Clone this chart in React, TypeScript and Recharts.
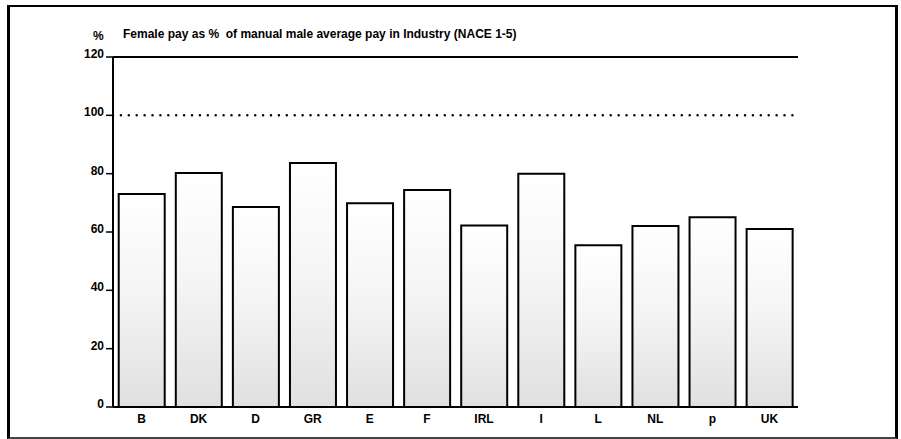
import { BarChart, Bar, XAxis, YAxis, ReferenceLine } from "recharts";

const countries = ["B", "DK", "D", "GR", "E", "F", "IRL", "I", "L", "NL", "p", "UK"];
const femalePay = [73.0, 80.2, 68.6, 83.7, 69.9, 74.4, 62.2, 80.0, 55.5, 62.1, 65.1, 61.0];
const yTicks = [0, 20, 40, 60, 80, 100, 120];

const data = countries.map((c, i) => ({ country: c, pay: femalePay[i] }));

const FONT = "'Liberation Sans', Arial, Helvetica, sans-serif";

function YTick(props: any) {
  const { x, y, payload } = props;
  return (
    <text x={x} y={y - 3} textAnchor="end" dominantBaseline="central" fontSize={12} fontWeight="bold" fontFamily={FONT} fill="#000">
      {payload.value}
    </text>
  );
}

export default function App() {
  return (
    <div style={{ position: "absolute", left: 0, top: 0, width: 901, height: 439, background: "#fff" }}>
      <div
        style={{
          position: "absolute",
          left: 7,
          top: 5,
          width: 885,
          height: 430,
          borderTop: "2px solid #000",
          borderLeft: "3px solid #000",
          borderRight: "3px solid #000",
          borderBottom: "2px solid #444",
        }}
      />
      <div style={{ position: "absolute", left: 93, top: 29, fontFamily: FONT, fontSize: 12, fontWeight: "bold" }}>%</div>
      <div style={{ position: "absolute", left: 123, top: 27, fontFamily: FONT, fontSize: 12, fontWeight: "bold", whiteSpace: "pre" }}>
        Female pay as %  of manual male average pay in Industry (NACE 1-5)
      </div>
      <div style={{ position: "absolute", left: 0, top: 0 }}>
        <BarChart width={901} height={439} data={data} margin={{ top: 57, right: 103, left: 63, bottom: 8 }} barCategoryGap="10%">
          <defs>
            <linearGradient id="speckle" x1="0" y1="0" x2="0" y2="1">
              <stop offset="0%" stopColor="#ffffff" />
              <stop offset="45%" stopColor="#f5f5f5" />
              <stop offset="100%" stopColor="#e0e0e0" />
            </linearGradient>
          </defs>
          <XAxis
            dataKey="country"
            height={24}
            tickLine={false}
            tickSize={0}
            tickMargin={7}
            axisLine={{ stroke: "#000", strokeWidth: 2 }}
            tick={{ fontSize: 12, fontWeight: "bold", fill: "#000", fontFamily: FONT }}
          />
          <YAxis
            width={50}
            domain={[0, 120]}
            ticks={yTicks}
            tickSize={7}
            tickMargin={2}
            tick={<YTick />}
            tickLine={{ stroke: "#000", strokeWidth: 1.5 }}
            axisLine={{ stroke: "#000", strokeWidth: 2 }}
          />
          <YAxis
            yAxisId="r"
            orientation="right"
            width={0}
            domain={[0, 120]}
            tick={false}
            tickLine={false}
            axisLine={{ stroke: "#000", strokeWidth: 2 }}
          />
          <ReferenceLine y={120} stroke="#000" strokeWidth={2} />
          <ReferenceLine y={100} stroke="#000" strokeWidth={2.5} strokeDasharray="0 7.9" strokeLinecap="round" />
          <Bar dataKey="pay" fill="url(#speckle)" stroke="#000" strokeWidth={2} isAnimationActive={false} />
        </BarChart>
      </div>
    </div>
  );
}
